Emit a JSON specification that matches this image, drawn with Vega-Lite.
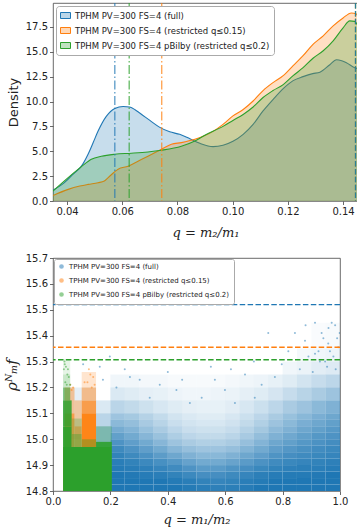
{
  "$schema": "https://vega.github.io/schema/vega-lite/v6.json",
  "background": "white",
  "padding": {"left": 3, "top": 2, "right": 0, "bottom": 0},
  "config": {
    "font": "DejaVu Sans",
    "view": {"stroke": "#444", "strokeWidth": 0.8},
    "axis": {"labelFont": "DejaVu Sans", "labelFontSize": 10, "labelColor": "#222", "tickColor": "#444", "tickSize": 3.5, "tickWidth": 0.8, "domain": false, "grid": false, "labelFlush": false, "labelOverlap": false, "titleColor": "#222", "titleFontWeight": "normal", "labelPadding": 2},
    "legend": {"labelFont": "DejaVu Sans", "labelColor": "#222"}
  },
  "datasets": {
    "kde": [
      {"s":"full","q":0.0349,"d":1.1},{"s":"full","q":0.0388,"d":1.8},{"s":"full","q":0.0404,"d":2.2},{"s":"full","q":0.0422,"d":2.7},{"s":"full","q":0.0452,"d":3.5},{"s":"full","q":0.0476,"d":4.7},{"s":"full","q":0.0495,"d":5.9},{"s":"full","q":0.0512,"d":7.0},{"s":"full","q":0.0542,"d":8.5},{"s":"full","q":0.0573,"d":9.3},{"s":"full","q":0.0603,"d":9.5},{"s":"full","q":0.0627,"d":9.45},{"s":"full","q":0.065,"d":9.1},{"s":"full","q":0.0675,"d":8.6},{"s":"full","q":0.07,"d":8.1},{"s":"full","q":0.0736,"d":7.4},{"s":"full","q":0.0772,"d":6.95},{"s":"full","q":0.0808,"d":6.7},{"s":"full","q":0.0845,"d":6.25},{"s":"full","q":0.0881,"d":5.8},{"s":"full","q":0.0929,"d":5.46},{"s":"full","q":0.0965,"d":5.6},{"s":"full","q":0.1001,"d":6.0},{"s":"full","q":0.1038,"d":6.7},{"s":"full","q":0.1074,"d":7.7},{"s":"full","q":0.111,"d":9.05},{"s":"full","q":0.1146,"d":10.2},{"s":"full","q":0.1183,"d":11.3},{"s":"full","q":0.1219,"d":12.1},{"s":"full","q":0.1255,"d":12.5},{"s":"full","q":0.129,"d":12.8},{"s":"full","q":0.1316,"d":12.95},{"s":"full","q":0.1352,"d":13.7},{"s":"full","q":0.1376,"d":14.2},{"s":"full","q":0.1395,"d":14.1},{"s":"full","q":0.1412,"d":13.9},{"s":"full","q":0.1442,"d":13.4},{"s":"full","q":0.1454,"d":13.3},
      {"s":"r15","q":0.0349,"d":0.55},{"s":"r15","q":0.0404,"d":1.17},{"s":"r15","q":0.0446,"d":1.5},{"s":"r15","q":0.0476,"d":1.67},{"s":"r15","q":0.0512,"d":1.84},{"s":"r15","q":0.0535,"d":2.0},{"s":"r15","q":0.0549,"d":2.35},{"s":"r15","q":0.0585,"d":3.2},{"s":"r15","q":0.0621,"d":3.5},{"s":"r15","q":0.0657,"d":4.0},{"s":"r15","q":0.0693,"d":4.5},{"s":"r15","q":0.0742,"d":5.2},{"s":"r15","q":0.0778,"d":5.7},{"s":"r15","q":0.0814,"d":5.87},{"s":"r15","q":0.0863,"d":6.2},{"s":"r15","q":0.0893,"d":6.5},{"s":"r15","q":0.0929,"d":7.0},{"s":"r15","q":0.0965,"d":7.7},{"s":"r15","q":0.1001,"d":8.55},{"s":"r15","q":0.1038,"d":9.2},{"s":"r15","q":0.1074,"d":10.05},{"s":"r15","q":0.111,"d":11.1},{"s":"r15","q":0.1146,"d":11.9},{"s":"r15","q":0.1183,"d":12.6},{"s":"r15","q":0.1219,"d":13.6},{"s":"r15","q":0.1255,"d":14.6},{"s":"r15","q":0.1291,"d":15.75},{"s":"r15","q":0.1328,"d":16.6},{"s":"r15","q":0.1364,"d":17.6},{"s":"r15","q":0.14,"d":18.4},{"s":"r15","q":0.143,"d":18.9},{"s":"r15","q":0.1448,"d":18.8},{"s":"r15","q":0.1454,"d":18.6},
      {"s":"r20","q":0.0349,"d":1.0},{"s":"r20","q":0.0404,"d":2.35},{"s":"r20","q":0.0452,"d":3.45},{"s":"r20","q":0.0488,"d":4.2},{"s":"r20","q":0.0524,"d":4.5},{"s":"r20","q":0.0573,"d":4.7},{"s":"r20","q":0.0633,"d":4.8},{"s":"r20","q":0.0693,"d":4.93},{"s":"r20","q":0.0742,"d":5.1},{"s":"r20","q":0.0814,"d":5.5},{"s":"r20","q":0.0863,"d":6.03},{"s":"r20","q":0.0899,"d":6.6},{"s":"r20","q":0.0965,"d":7.5},{"s":"r20","q":0.1001,"d":8.1},{"s":"r20","q":0.1038,"d":8.7},{"s":"r20","q":0.1074,"d":9.45},{"s":"r20","q":0.111,"d":10.4},{"s":"r20","q":0.1146,"d":11.1},{"s":"r20","q":0.1183,"d":11.7},{"s":"r20","q":0.1219,"d":12.6},{"s":"r20","q":0.1255,"d":13.4},{"s":"r20","q":0.1291,"d":14.35},{"s":"r20","q":0.1328,"d":15.1},{"s":"r20","q":0.1364,"d":16.1},{"s":"r20","q":0.14,"d":17.4},{"s":"r20","q":0.1424,"d":18.1},{"s":"r20","q":0.1442,"d":18.05},{"s":"r20","q":0.1454,"d":17.6}
    ],
    "vl": [
      {"s":"full","q":0.0573,"k":"dd"},{"s":"r20","q":0.0625,"k":"dd"},{"s":"r15","q":0.0743,"k":"dd"},
      {"s":"r15","q":0.1445,"k":"da"},{"s":"r20","q":0.1445,"k":"da"},{"s":"full","q":0.1445,"k":"da"}
    ],
    "bc": [
      {"x":0.2,"x2":0.25,"y":14.8,"y2":14.825,"d":1},{"x":0.25,"x2":0.3,"y":14.8,"y2":14.825,"d":1},{"x":0.3,"x2":0.35,"y":14.8,"y2":14.825,"d":1},{"x":0.35,"x2":0.4,"y":14.8,"y2":14.825,"d":1},{"x":0.4,"x2":0.45,"y":14.8,"y2":14.825,"d":1},{"x":0.45,"x2":0.5,"y":14.8,"y2":14.825,"d":0.97},{"x":0.5,"x2":0.55,"y":14.8,"y2":14.825,"d":0.94},{"x":0.55,"x2":0.6,"y":14.8,"y2":14.825,"d":0.92},{"x":0.6,"x2":0.65,"y":14.8,"y2":14.825,"d":0.93},{"x":0.65,"x2":0.7,"y":14.8,"y2":14.825,"d":0.96},{"x":0.7,"x2":0.75,"y":14.8,"y2":14.825,"d":1},{"x":0.75,"x2":0.8,"y":14.8,"y2":14.825,"d":1},{"x":0.8,"x2":0.85,"y":14.8,"y2":14.825,"d":1},{"x":0.85,"x2":0.9,"y":14.8,"y2":14.825,"d":1},{"x":0.9,"x2":0.95,"y":14.8,"y2":14.825,"d":1},{"x":0.95,"x2":1.0,"y":14.8,"y2":14.825,"d":1},
      {"x":0.2,"x2":0.25,"y":14.825,"y2":14.85,"d":1},{"x":0.25,"x2":0.3,"y":14.825,"y2":14.85,"d":1},{"x":0.3,"x2":0.35,"y":14.825,"y2":14.85,"d":1},{"x":0.35,"x2":0.4,"y":14.825,"y2":14.85,"d":1},{"x":0.4,"x2":0.45,"y":14.825,"y2":14.85,"d":0.97},{"x":0.45,"x2":0.5,"y":14.825,"y2":14.85,"d":0.94},{"x":0.5,"x2":0.55,"y":14.825,"y2":14.85,"d":0.9},{"x":0.55,"x2":0.6,"y":14.825,"y2":14.85,"d":0.88},{"x":0.6,"x2":0.65,"y":14.825,"y2":14.85,"d":0.9},{"x":0.65,"x2":0.7,"y":14.825,"y2":14.85,"d":0.94},{"x":0.7,"x2":0.75,"y":14.825,"y2":14.85,"d":0.97},{"x":0.75,"x2":0.8,"y":14.825,"y2":14.85,"d":1},{"x":0.8,"x2":0.85,"y":14.825,"y2":14.85,"d":1},{"x":0.85,"x2":0.9,"y":14.825,"y2":14.85,"d":1},{"x":0.9,"x2":0.95,"y":14.825,"y2":14.85,"d":1},{"x":0.95,"x2":1.0,"y":14.825,"y2":14.85,"d":1},
      {"x":0.2,"x2":0.25,"y":14.85,"y2":14.875,"d":1},{"x":0.25,"x2":0.3,"y":14.85,"y2":14.875,"d":0.98},{"x":0.3,"x2":0.35,"y":14.85,"y2":14.875,"d":0.96},{"x":0.35,"x2":0.4,"y":14.85,"y2":14.875,"d":0.94},{"x":0.4,"x2":0.45,"y":14.85,"y2":14.875,"d":0.9},{"x":0.45,"x2":0.5,"y":14.85,"y2":14.875,"d":0.85},{"x":0.5,"x2":0.55,"y":14.85,"y2":14.875,"d":0.8},{"x":0.55,"x2":0.6,"y":14.85,"y2":14.875,"d":0.8},{"x":0.6,"x2":0.65,"y":14.85,"y2":14.875,"d":0.84},{"x":0.65,"x2":0.7,"y":14.85,"y2":14.875,"d":0.88},{"x":0.7,"x2":0.75,"y":14.85,"y2":14.875,"d":0.93},{"x":0.75,"x2":0.8,"y":14.85,"y2":14.875,"d":0.96},{"x":0.8,"x2":0.85,"y":14.85,"y2":14.875,"d":0.97},{"x":0.85,"x2":0.9,"y":14.85,"y2":14.875,"d":0.97},{"x":0.9,"x2":0.95,"y":14.85,"y2":14.875,"d":0.98},{"x":0.95,"x2":1.0,"y":14.85,"y2":14.875,"d":1},
      {"x":0.2,"x2":0.25,"y":14.875,"y2":14.9,"d":0.97},{"x":0.25,"x2":0.3,"y":14.875,"y2":14.9,"d":0.95},{"x":0.3,"x2":0.35,"y":14.875,"y2":14.9,"d":0.92},{"x":0.35,"x2":0.4,"y":14.875,"y2":14.9,"d":0.88},{"x":0.4,"x2":0.45,"y":14.875,"y2":14.9,"d":0.83},{"x":0.45,"x2":0.5,"y":14.875,"y2":14.9,"d":0.76},{"x":0.5,"x2":0.55,"y":14.875,"y2":14.9,"d":0.7},{"x":0.55,"x2":0.6,"y":14.875,"y2":14.9,"d":0.7},{"x":0.6,"x2":0.65,"y":14.875,"y2":14.9,"d":0.75},{"x":0.65,"x2":0.7,"y":14.875,"y2":14.9,"d":0.8},{"x":0.7,"x2":0.75,"y":14.875,"y2":14.9,"d":0.86},{"x":0.75,"x2":0.8,"y":14.875,"y2":14.9,"d":0.9},{"x":0.8,"x2":0.85,"y":14.875,"y2":14.9,"d":0.92},{"x":0.85,"x2":0.9,"y":14.875,"y2":14.9,"d":0.93},{"x":0.9,"x2":0.95,"y":14.875,"y2":14.9,"d":0.94},{"x":0.95,"x2":1.0,"y":14.875,"y2":14.9,"d":0.96},
      {"x":0.2,"x2":0.25,"y":14.9,"y2":14.925,"d":0.94},{"x":0.25,"x2":0.3,"y":14.9,"y2":14.925,"d":0.9},{"x":0.3,"x2":0.35,"y":14.9,"y2":14.925,"d":0.85},{"x":0.35,"x2":0.4,"y":14.9,"y2":14.925,"d":0.79},{"x":0.4,"x2":0.45,"y":14.9,"y2":14.925,"d":0.72},{"x":0.45,"x2":0.5,"y":14.9,"y2":14.925,"d":0.64},{"x":0.5,"x2":0.55,"y":14.9,"y2":14.925,"d":0.58},{"x":0.55,"x2":0.6,"y":14.9,"y2":14.925,"d":0.58},{"x":0.6,"x2":0.65,"y":14.9,"y2":14.925,"d":0.63},{"x":0.65,"x2":0.7,"y":14.9,"y2":14.925,"d":0.7},{"x":0.7,"x2":0.75,"y":14.9,"y2":14.925,"d":0.77},{"x":0.75,"x2":0.8,"y":14.9,"y2":14.925,"d":0.83},{"x":0.8,"x2":0.85,"y":14.9,"y2":14.925,"d":0.86},{"x":0.85,"x2":0.9,"y":14.9,"y2":14.925,"d":0.88},{"x":0.9,"x2":0.95,"y":14.9,"y2":14.925,"d":0.9},{"x":0.95,"x2":1.0,"y":14.9,"y2":14.925,"d":0.92},
      {"x":0.2,"x2":0.25,"y":14.925,"y2":14.95,"d":0.9},{"x":0.25,"x2":0.3,"y":14.925,"y2":14.95,"d":0.84},{"x":0.3,"x2":0.35,"y":14.925,"y2":14.95,"d":0.77},{"x":0.35,"x2":0.4,"y":14.925,"y2":14.95,"d":0.69},{"x":0.4,"x2":0.45,"y":14.925,"y2":14.95,"d":0.6},{"x":0.45,"x2":0.5,"y":14.925,"y2":14.95,"d":0.52},{"x":0.5,"x2":0.55,"y":14.925,"y2":14.95,"d":0.47},{"x":0.55,"x2":0.6,"y":14.925,"y2":14.95,"d":0.47},{"x":0.6,"x2":0.65,"y":14.925,"y2":14.95,"d":0.52},{"x":0.65,"x2":0.7,"y":14.925,"y2":14.95,"d":0.6},{"x":0.7,"x2":0.75,"y":14.925,"y2":14.95,"d":0.67},{"x":0.75,"x2":0.8,"y":14.925,"y2":14.95,"d":0.75},{"x":0.8,"x2":0.85,"y":14.925,"y2":14.95,"d":0.8},{"x":0.85,"x2":0.9,"y":14.925,"y2":14.95,"d":0.83},{"x":0.9,"x2":0.95,"y":14.925,"y2":14.95,"d":0.86},{"x":0.95,"x2":1.0,"y":14.925,"y2":14.95,"d":0.88},
      {"x":0.2,"x2":0.25,"y":14.95,"y2":14.975,"d":0.84},{"x":0.25,"x2":0.3,"y":14.95,"y2":14.975,"d":0.76},{"x":0.3,"x2":0.35,"y":14.95,"y2":14.975,"d":0.67},{"x":0.35,"x2":0.4,"y":14.95,"y2":14.975,"d":0.58},{"x":0.4,"x2":0.45,"y":14.95,"y2":14.975,"d":0.48},{"x":0.45,"x2":0.5,"y":14.95,"y2":14.975,"d":0.41},{"x":0.5,"x2":0.55,"y":14.95,"y2":14.975,"d":0.37},{"x":0.55,"x2":0.6,"y":14.95,"y2":14.975,"d":0.37},{"x":0.6,"x2":0.65,"y":14.95,"y2":14.975,"d":0.41},{"x":0.65,"x2":0.7,"y":14.95,"y2":14.975,"d":0.5},{"x":0.7,"x2":0.75,"y":14.95,"y2":14.975,"d":0.58},{"x":0.75,"x2":0.8,"y":14.95,"y2":14.975,"d":0.67},{"x":0.8,"x2":0.85,"y":14.95,"y2":14.975,"d":0.73},{"x":0.85,"x2":0.9,"y":14.95,"y2":14.975,"d":0.78},{"x":0.9,"x2":0.95,"y":14.95,"y2":14.975,"d":0.82},{"x":0.95,"x2":1.0,"y":14.95,"y2":14.975,"d":0.85},
      {"x":0.2,"x2":0.25,"y":14.975,"y2":15.0,"d":0.76},{"x":0.25,"x2":0.3,"y":14.975,"y2":15.0,"d":0.67},{"x":0.3,"x2":0.35,"y":14.975,"y2":15.0,"d":0.58},{"x":0.35,"x2":0.4,"y":14.975,"y2":15.0,"d":0.48},{"x":0.4,"x2":0.45,"y":14.975,"y2":15.0,"d":0.38},{"x":0.45,"x2":0.5,"y":14.975,"y2":15.0,"d":0.32},{"x":0.5,"x2":0.55,"y":14.975,"y2":15.0,"d":0.29},{"x":0.55,"x2":0.6,"y":14.975,"y2":15.0,"d":0.29},{"x":0.6,"x2":0.65,"y":14.975,"y2":15.0,"d":0.32},{"x":0.65,"x2":0.7,"y":14.975,"y2":15.0,"d":0.41},{"x":0.7,"x2":0.75,"y":14.975,"y2":15.0,"d":0.5},{"x":0.75,"x2":0.8,"y":14.975,"y2":15.0,"d":0.6},{"x":0.8,"x2":0.85,"y":14.975,"y2":15.0,"d":0.66},{"x":0.85,"x2":0.9,"y":14.975,"y2":15.0,"d":0.72},{"x":0.9,"x2":0.95,"y":14.975,"y2":15.0,"d":0.77},{"x":0.95,"x2":1.0,"y":14.975,"y2":15.0,"d":0.81},
      {"x":0.2,"x2":0.25,"y":15.0,"y2":15.025,"d":0.66},{"x":0.25,"x2":0.3,"y":15.0,"y2":15.025,"d":0.58},{"x":0.3,"x2":0.35,"y":15.0,"y2":15.025,"d":0.48},{"x":0.35,"x2":0.4,"y":15.0,"y2":15.025,"d":0.39},{"x":0.4,"x2":0.45,"y":15.0,"y2":15.025,"d":0.3},{"x":0.45,"x2":0.5,"y":15.0,"y2":15.025,"d":0.24},{"x":0.5,"x2":0.55,"y":15.0,"y2":15.025,"d":0.22},{"x":0.55,"x2":0.6,"y":15.0,"y2":15.025,"d":0.22},{"x":0.6,"x2":0.65,"y":15.0,"y2":15.025,"d":0.25},{"x":0.65,"x2":0.7,"y":15.0,"y2":15.025,"d":0.33},{"x":0.7,"x2":0.75,"y":15.0,"y2":15.025,"d":0.42},{"x":0.75,"x2":0.8,"y":15.0,"y2":15.025,"d":0.52},{"x":0.8,"x2":0.85,"y":15.0,"y2":15.025,"d":0.59},{"x":0.85,"x2":0.9,"y":15.0,"y2":15.025,"d":0.66},{"x":0.9,"x2":0.95,"y":15.0,"y2":15.025,"d":0.72},{"x":0.95,"x2":1.0,"y":15.0,"y2":15.025,"d":0.76},
      {"x":0.2,"x2":0.25,"y":15.025,"y2":15.05,"d":0.56},{"x":0.25,"x2":0.3,"y":15.025,"y2":15.05,"d":0.5},{"x":0.3,"x2":0.35,"y":15.025,"y2":15.05,"d":0.4},{"x":0.35,"x2":0.4,"y":15.025,"y2":15.05,"d":0.32},{"x":0.4,"x2":0.45,"y":15.025,"y2":15.05,"d":0.24},{"x":0.45,"x2":0.5,"y":15.025,"y2":15.05,"d":0.19},{"x":0.5,"x2":0.55,"y":15.025,"y2":15.05,"d":0.17},{"x":0.55,"x2":0.6,"y":15.025,"y2":15.05,"d":0.17},{"x":0.6,"x2":0.65,"y":15.025,"y2":15.05,"d":0.2},{"x":0.65,"x2":0.7,"y":15.025,"y2":15.05,"d":0.27},{"x":0.7,"x2":0.75,"y":15.025,"y2":15.05,"d":0.35},{"x":0.75,"x2":0.8,"y":15.025,"y2":15.05,"d":0.45},{"x":0.8,"x2":0.85,"y":15.025,"y2":15.05,"d":0.52},{"x":0.85,"x2":0.9,"y":15.025,"y2":15.05,"d":0.6},{"x":0.9,"x2":0.95,"y":15.025,"y2":15.05,"d":0.66},{"x":0.95,"x2":1.0,"y":15.025,"y2":15.05,"d":0.71},
      {"x":0.2,"x2":0.25,"y":15.05,"y2":15.075,"d":0.46},{"x":0.25,"x2":0.3,"y":15.05,"y2":15.075,"d":0.42},{"x":0.3,"x2":0.35,"y":15.05,"y2":15.075,"d":0.33},{"x":0.35,"x2":0.4,"y":15.05,"y2":15.075,"d":0.26},{"x":0.4,"x2":0.45,"y":15.05,"y2":15.075,"d":0.19},{"x":0.45,"x2":0.5,"y":15.05,"y2":15.075,"d":0.15},{"x":0.5,"x2":0.55,"y":15.05,"y2":15.075,"d":0.13},{"x":0.55,"x2":0.6,"y":15.05,"y2":15.075,"d":0.13},{"x":0.6,"x2":0.65,"y":15.05,"y2":15.075,"d":0.16},{"x":0.65,"x2":0.7,"y":15.05,"y2":15.075,"d":0.22},{"x":0.7,"x2":0.75,"y":15.05,"y2":15.075,"d":0.29},{"x":0.75,"x2":0.8,"y":15.05,"y2":15.075,"d":0.38},{"x":0.8,"x2":0.85,"y":15.05,"y2":15.075,"d":0.46},{"x":0.85,"x2":0.9,"y":15.05,"y2":15.075,"d":0.54},{"x":0.9,"x2":0.95,"y":15.05,"y2":15.075,"d":0.6},{"x":0.95,"x2":1.0,"y":15.05,"y2":15.075,"d":0.66},
      {"x":0.2,"x2":0.25,"y":15.075,"y2":15.1,"d":0.37},{"x":0.25,"x2":0.3,"y":15.075,"y2":15.1,"d":0.34},{"x":0.3,"x2":0.35,"y":15.075,"y2":15.1,"d":0.27},{"x":0.35,"x2":0.4,"y":15.075,"y2":15.1,"d":0.21},{"x":0.4,"x2":0.45,"y":15.075,"y2":15.1,"d":0.15},{"x":0.45,"x2":0.5,"y":15.075,"y2":15.1,"d":0.12},{"x":0.5,"x2":0.55,"y":15.075,"y2":15.1,"d":0.1},{"x":0.55,"x2":0.6,"y":15.075,"y2":15.1,"d":0.1},{"x":0.6,"x2":0.65,"y":15.075,"y2":15.1,"d":0.13},{"x":0.65,"x2":0.7,"y":15.075,"y2":15.1,"d":0.18},{"x":0.7,"x2":0.75,"y":15.075,"y2":15.1,"d":0.24},{"x":0.75,"x2":0.8,"y":15.075,"y2":15.1,"d":0.32},{"x":0.8,"x2":0.85,"y":15.075,"y2":15.1,"d":0.4},{"x":0.85,"x2":0.9,"y":15.075,"y2":15.1,"d":0.47},{"x":0.9,"x2":0.95,"y":15.075,"y2":15.1,"d":0.54},{"x":0.95,"x2":1.0,"y":15.075,"y2":15.1,"d":0.6},
      {"x":0.2,"x2":0.25,"y":15.1,"y2":15.15,"d":0.25},{"x":0.25,"x2":0.3,"y":15.1,"y2":15.15,"d":0.22},{"x":0.3,"x2":0.35,"y":15.1,"y2":15.15,"d":0.17},{"x":0.35,"x2":0.4,"y":15.1,"y2":15.15,"d":0.13},{"x":0.4,"x2":0.45,"y":15.1,"y2":15.15,"d":0.1},{"x":0.45,"x2":0.5,"y":15.1,"y2":15.15,"d":0.08},{"x":0.5,"x2":0.55,"y":15.1,"y2":15.15,"d":0.07},{"x":0.55,"x2":0.6,"y":15.1,"y2":15.15,"d":0.07},{"x":0.6,"x2":0.65,"y":15.1,"y2":15.15,"d":0.09},{"x":0.65,"x2":0.7,"y":15.1,"y2":15.15,"d":0.13},{"x":0.7,"x2":0.75,"y":15.1,"y2":15.15,"d":0.18},{"x":0.75,"x2":0.8,"y":15.1,"y2":15.15,"d":0.24},{"x":0.8,"x2":0.85,"y":15.1,"y2":15.15,"d":0.32},{"x":0.85,"x2":0.9,"y":15.1,"y2":15.15,"d":0.38},{"x":0.9,"x2":0.95,"y":15.1,"y2":15.15,"d":0.46},{"x":0.95,"x2":1.0,"y":15.1,"y2":15.15,"d":0.52},
      {"x":0.2,"x2":0.25,"y":15.15,"y2":15.2,"d":0.12},{"x":0.25,"x2":0.3,"y":15.15,"y2":15.2,"d":0.1},{"x":0.3,"x2":0.35,"y":15.15,"y2":15.2,"d":0.08},{"x":0.35,"x2":0.4,"y":15.15,"y2":15.2,"d":0.07},{"x":0.4,"x2":0.45,"y":15.15,"y2":15.2,"d":0.05},{"x":0.45,"x2":0.5,"y":15.15,"y2":15.2,"d":0.04},{"x":0.5,"x2":0.55,"y":15.15,"y2":15.2,"d":0.04},{"x":0.55,"x2":0.6,"y":15.15,"y2":15.2,"d":0.05},{"x":0.6,"x2":0.65,"y":15.15,"y2":15.2,"d":0.06},{"x":0.65,"x2":0.7,"y":15.15,"y2":15.2,"d":0.08},{"x":0.7,"x2":0.75,"y":15.15,"y2":15.2,"d":0.1},{"x":0.75,"x2":0.8,"y":15.15,"y2":15.2,"d":0.14},{"x":0.8,"x2":0.85,"y":15.15,"y2":15.2,"d":0.2},{"x":0.85,"x2":0.9,"y":15.15,"y2":15.2,"d":0.26},{"x":0.9,"x2":0.95,"y":15.15,"y2":15.2,"d":0.32},{"x":0.95,"x2":1.0,"y":15.15,"y2":15.2,"d":0.38},
      {"x":0.2,"x2":0.25,"y":15.2,"y2":15.25,"d":0.04},{"x":0.25,"x2":0.3,"y":15.2,"y2":15.25,"d":0.04},{"x":0.3,"x2":0.35,"y":15.2,"y2":15.25,"d":0.03},{"x":0.35,"x2":0.4,"y":15.2,"y2":15.25,"d":0.03},{"x":0.4,"x2":0.45,"y":15.2,"y2":15.25,"d":0.02},{"x":0.45,"x2":0.5,"y":15.2,"y2":15.25,"d":0.02},{"x":0.5,"x2":0.55,"y":15.2,"y2":15.25,"d":0.02},{"x":0.55,"x2":0.6,"y":15.2,"y2":15.25,"d":0.02},{"x":0.6,"x2":0.65,"y":15.2,"y2":15.25,"d":0.03},{"x":0.65,"x2":0.7,"y":15.2,"y2":15.25,"d":0.04},{"x":0.7,"x2":0.75,"y":15.2,"y2":15.25,"d":0.05},{"x":0.75,"x2":0.8,"y":15.2,"y2":15.25,"d":0.07},{"x":0.8,"x2":0.85,"y":15.2,"y2":15.25,"d":0.1},{"x":0.85,"x2":0.9,"y":15.2,"y2":15.25,"d":0.15},{"x":0.9,"x2":0.95,"y":15.2,"y2":15.25,"d":0.2},{"x":0.95,"x2":1.0,"y":15.2,"y2":15.25,"d":0.24},
      {"x":0.8,"x2":0.85,"y":15.25,"y2":15.3,"d":0.04},{"x":0.85,"x2":0.9,"y":15.25,"y2":15.3,"d":0.06},{"x":0.9,"x2":0.95,"y":15.25,"y2":15.3,"d":0.09},{"x":0.95,"x2":1.0,"y":15.25,"y2":15.3,"d":0.11},
      {"x":0.85,"x2":0.9,"y":15.3,"y2":15.35,"d":0.03},{"x":0.9,"x2":0.95,"y":15.3,"y2":15.35,"d":0.04},{"x":0.95,"x2":1.0,"y":15.3,"y2":15.35,"d":0.05},
      {"x":0.9,"x2":0.95,"y":15.35,"y2":15.45,"d":0.015},{"x":0.95,"x2":1.0,"y":15.35,"y2":15.45,"d":0.02},
      {"x":0.15,"x2":0.2,"y":14.97,"y2":15.05,"d":0.4},{"x":0.15,"x2":0.2,"y":15.05,"y2":15.1,"d":0.25},{"x":0.15,"x2":0.2,"y":15.1,"y2":15.15,"d":0.12},{"x":0.035,"x2":0.15,"y":15.0,"y2":15.2,"d":0.08}
    ],
    "oc": [
      {"x":0.035,"x2":0.15,"y":14.8,"y2":14.97,"d":1},{"x":0.04,"x2":0.075,"y":14.97,"y2":15.1,"d":0.7},{"x":0.04,"x2":0.075,"y":15.1,"y2":15.2,"d":0.35},{"x":0.075,"x2":0.1,"y":14.97,"y2":15.05,"d":0.6},{"x":0.075,"x2":0.1,"y":15.05,"y2":15.15,"d":0.3},{"x":0.1,"x2":0.15,"y":14.97,"y2":15.1,"d":0.95},{"x":0.1,"x2":0.15,"y":15.1,"y2":15.15,"d":0.7},{"x":0.1,"x2":0.15,"y":15.15,"y2":15.2,"d":0.4},{"x":0.1,"x2":0.15,"y":15.2,"y2":15.26,"d":0.15}
    ],
    "gc": [
      {"x":0.035,"x2":0.205,"y":14.8,"y2":14.97,"d":1},{"x":0.15,"x2":0.205,"y":14.97,"y2":14.99,"d":0.9},{"x":0.15,"x2":0.205,"y":14.99,"y2":15.05,"d":0.2},{"x":0.035,"x2":0.065,"y":14.97,"y2":15.05,"d":0.95},{"x":0.035,"x2":0.065,"y":15.05,"y2":15.15,"d":0.85},{"x":0.035,"x2":0.06,"y":15.15,"y2":15.2,"d":0.5},{"x":0.035,"x2":0.06,"y":15.2,"y2":15.25,"d":0.2},{"x":0.035,"x2":0.06,"y":15.25,"y2":15.31,"d":0.08},{"x":0.065,"x2":0.1,"y":14.97,"y2":15.02,"d":0.45},{"x":0.065,"x2":0.1,"y":15.02,"y2":15.08,"d":0.2},{"x":0.1,"x2":0.15,"y":14.97,"y2":15.0,"d":0.3}
    ],
    "pts": [
      {"s":"full","x":0.971,"y":15.45},{"s":"full","x":0.983,"y":15.44},{"s":"full","x":0.942,"y":15.39},{"s":"full","x":0.913,"y":15.45},{"s":"full","x":0.959,"y":15.37},{"s":"full","x":0.994,"y":15.355},{"s":"full","x":0.925,"y":15.34},{"s":"full","x":0.843,"y":15.41},{"s":"full","x":0.89,"y":15.32},{"s":"full","x":0.977,"y":15.32},{"s":"full","x":0.99,"y":15.39},{"s":"full","x":0.948,"y":15.3},{"s":"full","x":0.999,"y":15.41},{"s":"full","x":0.82,"y":15.34},{"s":"full","x":0.75,"y":15.41},{"s":"full","x":0.878,"y":15.38},{"s":"full","x":0.936,"y":15.41},{"s":"full","x":0.965,"y":15.34},{"s":"full","x":0.913,"y":15.33},{"s":"full","x":0.797,"y":15.29},{"s":"full","x":0.669,"y":15.25},{"s":"full","x":0.564,"y":15.23},{"s":"full","x":0.599,"y":15.19},{"s":"full","x":0.518,"y":15.16},{"s":"full","x":0.727,"y":15.21},{"s":"full","x":0.773,"y":15.24},{"s":"full","x":0.634,"y":15.14},{"s":"full","x":0.703,"y":15.16},{"s":"full","x":0.268,"y":15.24},{"s":"full","x":0.302,"y":15.23},{"s":"full","x":0.221,"y":15.2},{"s":"full","x":0.372,"y":15.21},{"s":"full","x":0.43,"y":15.19},{"s":"full","x":0.477,"y":15.14},{"s":"full","x":0.337,"y":15.16},{"s":"full","x":0.174,"y":15.23},{"s":"full","x":0.105,"y":15.29},{"s":"full","x":0.198,"y":15.32},{"s":"full","x":0.163,"y":15.28},{"s":"full","x":0.86,"y":15.27},{"s":"full","x":0.905,"y":15.26},{"s":"full","x":0.955,"y":15.28},{"s":"full","x":0.985,"y":15.27},{"s":"full","x":0.93,"y":15.3},{"s":"full","x":0.45,"y":15.23},{"s":"full","x":0.62,"y":15.27},{"s":"full","x":0.7,"y":15.3},{"s":"full","x":0.55,"y":15.28},{"s":"full","x":0.4,"y":15.26},{"s":"full","x":0.25,"y":15.27},{"s":"full","x":0.88,"y":15.44},{"s":"full","x":0.96,"y":15.43},
      {"s":"r15","x":0.13,"y":15.25},{"s":"r15","x":0.14,"y":15.24},{"s":"r15","x":0.12,"y":15.22},{"s":"r15","x":0.145,"y":15.21},{"s":"r15","x":0.06,"y":15.21},{"s":"r15","x":0.065,"y":15.19},{"s":"r15","x":0.11,"y":15.22},{"s":"r15","x":0.135,"y":15.2},{"s":"r15","x":0.125,"y":15.27},{"s":"r15","x":0.07,"y":15.2},
      {"s":"r20","x":0.04,"y":15.3},{"s":"r20","x":0.045,"y":15.28},{"s":"r20","x":0.05,"y":15.25},{"s":"r20","x":0.038,"y":15.27},{"s":"r20","x":0.055,"y":15.24},{"s":"r20","x":0.043,"y":15.22},{"s":"r20","x":0.048,"y":15.21},{"s":"r20","x":0.06,"y":15.21},{"s":"r20","x":0.041,"y":15.29},{"s":"r20","x":0.052,"y":15.27}
    ],
    "hl": [{"s":"full","y":15.52},{"s":"r15","y":15.355},{"s":"r20","y":15.307}]
  },
  "concat": [
    {
      "width": 305,
      "height": 198,
      "layer": [
        {
          "data": {"name": "kde"},
          "encoding": {
            "x": {"field": "q", "type": "quantitative", "scale": {"domain": [0.0349, 0.1454], "nice": false, "zero": false}, "axis": {"title": "q = m₂/m₁", "titleFont": "DejaVu Serif", "titleFontStyle": "italic", "titleFontSize": 13, "titlePadding": 10, "values": [0.04, 0.06, 0.08, 0.1, 0.12, 0.14], "format": ".2f", "labelOverlap": false}},
            "y": {"field": "d", "type": "quantitative", "scale": {"domain": [0, 19.9], "nice": false}, "axis": {"title": "Density", "titleFontSize": 13, "titlePadding": 5, "values": [0, 2.5, 5, 7.5, 10, 12.5, 15, 17.5], "format": ".1f", "labelOverlap": false}}
          },
          "layer": [
            {"transform": [{"filter": "datum.s == 'full'"}], "mark": {"type": "area", "fillOpacity": 0.25, "interpolate": "monotone", "clip": true}, "encoding": {"fill": {"field": "s", "type": "nominal", "scale": {"domain": ["full", "r15", "r20"], "range": ["#1f77b4", "#ff7f0e", "#2ca02c"]}, "legend": {"title": null, "orient": "top-left", "offset": 3, "labelExpr": "datum.label == 'full' ? 'TPHM PV=300 FS=4 (full)' : datum.label == 'r15' ? 'TPHM PV=300 FS=4 (restricted q≤0.15)' : 'TPHM PV=300 FS=4 pBilby (restricted q≤0.2)'", "symbolType": "M-1,-0.6L1,-0.6L1,0.6L-1,0.6Z", "symbolSize": 100, "symbolStrokeWidth": 1, "labelFontSize": 8.5, "labelLimit": 300, "rowPadding": 4, "padding": 4, "strokeColor": "#aaa", "fillColor": "#ffffff", "cornerRadius": 3, "encode": {"symbols": {"update": {"fillOpacity": {"value": 0.3}, "strokeOpacity": {"value": 1}, "opacity": {"value": 1}}}}}}}},
            {"transform": [{"filter": "datum.s == 'full'"}], "mark": {"type": "line", "strokeWidth": 1.1, "interpolate": "monotone", "clip": true}, "encoding": {"stroke": {"field": "s", "type": "nominal", "scale": {"domain": ["full", "r15", "r20"], "range": ["#1f77b4", "#ff7f0e", "#2ca02c"]}, "legend": {"title": null, "orient": "top-left", "offset": 3, "labelExpr": "datum.label == 'full' ? 'TPHM PV=300 FS=4 (full)' : datum.label == 'r15' ? 'TPHM PV=300 FS=4 (restricted q≤0.15)' : 'TPHM PV=300 FS=4 pBilby (restricted q≤0.2)'", "symbolType": "M-1,-0.6L1,-0.6L1,0.6L-1,0.6Z", "symbolSize": 100, "symbolStrokeWidth": 1, "labelFontSize": 8.5, "labelLimit": 300, "rowPadding": 4, "padding": 4, "strokeColor": "#aaa", "fillColor": "#ffffff", "cornerRadius": 3}}}},
            {"transform": [{"filter": "datum.s == 'r15'"}], "mark": {"type": "area", "fillOpacity": 0.25, "interpolate": "monotone", "clip": true}, "encoding": {"fill": {"field": "s", "type": "nominal"}}},
            {"transform": [{"filter": "datum.s == 'r15'"}], "mark": {"type": "line", "strokeWidth": 1.1, "interpolate": "monotone", "clip": true}, "encoding": {"stroke": {"field": "s", "type": "nominal"}}},
            {"transform": [{"filter": "datum.s == 'r20'"}], "mark": {"type": "area", "fillOpacity": 0.25, "interpolate": "monotone", "clip": true}, "encoding": {"fill": {"field": "s", "type": "nominal"}}},
            {"transform": [{"filter": "datum.s == 'r20'"}], "mark": {"type": "line", "strokeWidth": 1.1, "interpolate": "monotone", "clip": true}, "encoding": {"stroke": {"field": "s", "type": "nominal"}}}
          ]
        },
        {
          "data": {"name": "vl"},
          "mark": {"type": "rule", "strokeWidth": 1.2, "opacity": 0.8},
          "encoding": {
            "x": {"field": "q", "type": "quantitative", "axis": {"title": "q = m₂/m₁", "titleFont": "DejaVu Serif", "titleFontStyle": "italic", "titleFontSize": 13, "titlePadding": 10, "values": [0.04, 0.06, 0.08, 0.1, 0.12, 0.14], "format": ".2f", "labelOverlap": false}},
            "color": {"field": "s", "type": "nominal", "scale": {"domain": ["full", "r15", "r20"], "range": ["#1f77b4", "#ff7f0e", "#2ca02c"]}, "legend": null},
            "strokeDash": {"field": "k", "type": "nominal", "scale": {"domain": ["dd", "da"], "range": [[9, 2.5, 1.5, 2.5], [5.5, 2.4]]}, "legend": null}
          }
        }
      ]
    },
    {
      "width": 287,
      "height": 233,
      "layer": [
        {
          "encoding": {
            "x": {"field": "x", "type": "quantitative", "scale": {"domain": [0, 1], "nice": false}, "axis": {"title": "q = m₁/m₂", "titleFont": "DejaVu Serif", "titleFontStyle": "italic", "titleFontSize": 13, "titlePadding": 7, "values": [0, 0.2, 0.4, 0.6, 0.8, 1], "format": ".1f", "labelOverlap": false}},
            "y": {"field": "y", "type": "quantitative", "scale": {"domain": [14.8, 15.7], "nice": false, "zero": false}, "axis": {"title": "ρᴺₘf", "titleFont": "DejaVu Serif", "titleFontStyle": "italic", "titleFontSize": 15, "titlePadding": 6, "values": [14.8, 14.9, 15.0, 15.1, 15.2, 15.3, 15.4, 15.5, 15.6, 15.7], "format": ".1f", "labelOverlap": false}}
          },
          "layer": [
            {"data": {"name": "bc"}, "mark": {"type": "rect", "color": "#1f77b4", "clip": true}, "encoding": {"x2": {"field": "x2"}, "y2": {"field": "y2"}, "opacity": {"field": "d", "type": "quantitative", "scale": {"type": "pow", "exponent": 0.85, "domain": [0, 1], "range": [0, 1]}, "legend": null}}},
            {"data": {"name": "pts"}, "transform": [{"filter": "datum.s == 'full'"}], "mark": {"type": "circle", "size": 4, "opacity": 0.5, "clip": true}, "encoding": {"color": {"field": "s", "type": "nominal", "scale": {"domain": ["full", "r15", "r20"], "range": ["#1f77b4", "#ff7f0e", "#2ca02c"]}, "legend": {"title": null, "orient": "top-left", "offset": 1, "labelExpr": "datum.label == 'full' ? 'TPHM PV=300 FS=4 (full)' : datum.label == 'r15' ? 'TPHM PV=300 FS=4 (restricted q≤0.15)' : 'TPHM PV=300 FS=4 pBilby (restricted q≤0.2)'", "symbolType": "circle", "symbolSize": 10, "labelFontSize": 7, "labelLimit": 300, "rowPadding": 3, "padding": 4, "strokeColor": "#aaa", "fillColor": "#ffffff", "cornerRadius": 2, "encode": {"symbols": {"update": {"opacity": {"value": 1}}}}}}}},
            {"data": {"name": "oc"}, "mark": {"type": "rect", "color": "#ff7f0e", "clip": true}, "encoding": {"x2": {"field": "x2"}, "y2": {"field": "y2"}, "opacity": {"field": "d", "type": "quantitative", "legend": null}}},
            {"data": {"name": "pts"}, "transform": [{"filter": "datum.s == 'r15'"}], "mark": {"type": "circle", "size": 4, "opacity": 0.5, "clip": true}, "encoding": {"color": {"field": "s", "type": "nominal"}}},
            {"data": {"name": "gc"}, "mark": {"type": "rect", "color": "#2ca02c", "clip": true}, "encoding": {"x2": {"field": "x2"}, "y2": {"field": "y2"}, "opacity": {"field": "d", "type": "quantitative", "legend": null}}},
            {"data": {"name": "pts"}, "transform": [{"filter": "datum.s == 'r20'"}], "mark": {"type": "circle", "size": 4, "opacity": 0.5, "clip": true}, "encoding": {"color": {"field": "s", "type": "nominal"}}}
          ]
        },
        {
          "data": {"name": "hl"},
          "mark": {"type": "rule", "strokeWidth": 1.4, "strokeDash": [5.5, 2.4]},
          "encoding": {
            "y": {"field": "y", "type": "quantitative", "axis": {"title": "ρᴺₘf", "titleFont": "DejaVu Serif", "titleFontStyle": "italic", "titleFontSize": 15, "titlePadding": 6, "values": [14.8, 14.9, 15.0, 15.1, 15.2, 15.3, 15.4, 15.5, 15.6, 15.7], "format": ".1f", "labelOverlap": false}},
            "stroke": {"field": "s", "type": "nominal", "scale": {"domain": ["full", "r15", "r20"], "range": ["#1f77b4", "#ff7f0e", "#2ca02c"]}, "legend": null}
          }
        }
      ]
    }
  ],
  "columns": 1,
  "align": "none",
  "spacing": 12,
  "resolve": {
    "scale": {"color": "independent", "fill": "independent", "stroke": "independent", "opacity": "independent", "strokeDash": "independent"},
    "legend": {"color": "independent", "fill": "independent", "stroke": "independent", "opacity": "independent", "strokeDash": "independent"}
  }
}
